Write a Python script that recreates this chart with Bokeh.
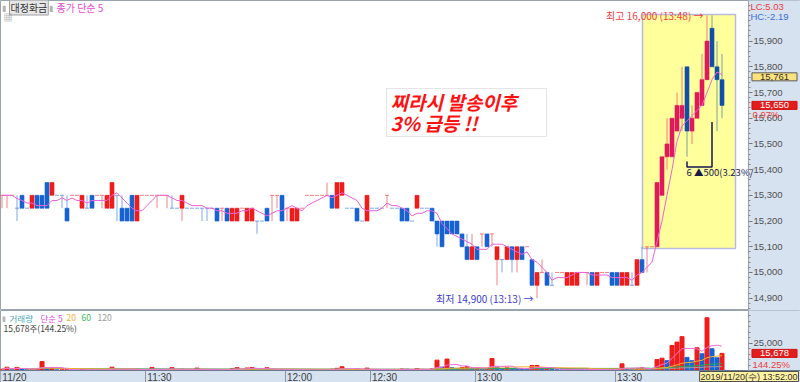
import numpy as np
import pandas as pd
from bokeh.plotting import figure
from bokeh.models import (Range1d, FixedTicker, NumeralTickFormatter, Label,
                          BoxAnnotation)
from bokeh.layouts import column
from bokeh.embed import file_html
from bokeh.resources import INLINE
from bokeh.core.properties import value

# ---------------- data (1-minute candles, 대정화금) ----------------
OPEN = [
    15300, 15300, 15300, 15250, 15300, 15250, 15250, 15300, 15300, 15350,
    15300, 15300, 15300, 15250, 15300, 15300, 15250, 15250, 15300, 15300,
    15300, 15250, 15250, 15300, 15250, 15250, 15300, 15200, 15300, 15300,
    15300, 15300, 15300, 15300, 15250, 15250, 15250, 15250, 15250, 15250,
    15250, 15250, 15250, 15250, 15250, 15250, 15200, 15200, 15250, 15200,
    15200, 15200, 15200, 15250, 15300, 15300, 15300, 15250, 15200, 15200,
    15250, 15300, 15300, 15300, 15300, 15300, 15300, 15250, 15300, 15250,
    15250, 15250, 15200, 15200, 15250, 15250, 15250, 15300, 15250, 15250,
    15250, 15250, 15200, 15250, 15250, 15250, 15250, 15200, 15200, 15200,
    15200, 15200, 15150, 15100, 15050, 15100, 15150, 15150, 15150, 15050,
    15050, 15050, 15100, 15050, 15100, 15100, 15050, 14950, 15000, 15000,
    14950, 15000, 15000, 14950, 14950, 14950, 15000, 15000, 15000, 14950,
    15000, 15000, 15000, 15000, 14950, 14950, 14950, 14950, 15050, 15100,
    15100, 15100, 15300, 15450, 15450, 15550, 15600, 15800, 15550, 15600,
    15650, 15750, 15950, 15800, 15750]
HIGH = [
    15300, 15300, 15300, 15300, 15300, 15250, 15300, 15300, 15300, 15350,
    15350, 15300, 15300, 15300, 15300, 15300, 15300, 15300, 15300, 15300,
    15300, 15300, 15350, 15300, 15300, 15250, 15300, 15300, 15300, 15300,
    15300, 15300, 15300, 15300, 15300, 15250, 15300, 15250, 15250, 15250,
    15250, 15250, 15250, 15250, 15250, 15250, 15250, 15250, 15250, 15250,
    15250, 15200, 15200, 15250, 15300, 15300, 15300, 15250, 15250, 15250,
    15250, 15300, 15300, 15300, 15300, 15350, 15300, 15350, 15350, 15250,
    15250, 15250, 15200, 15300, 15250, 15250, 15250, 15300, 15250, 15250,
    15250, 15250, 15200, 15300, 15250, 15250, 15250, 15200, 15200, 15200,
    15200, 15200, 15150, 15150, 15150, 15100, 15150, 15150, 15150, 15100,
    15050, 15100, 15100, 15100, 15100, 15100, 15050, 15000, 15050, 15000,
    15000, 15000, 15000, 15000, 15000, 15000, 15000, 15000, 15000, 15000,
    15000, 15000, 15000, 15000, 15000, 15000, 15000, 15050, 15100, 15100,
    15100, 15350, 15450, 15600, 15600, 15700, 15800, 15800, 15650, 15700,
    15850, 16000, 16000, 15900, 15850]
LOW = [
    15250, 15250, 15300, 15200, 15250, 15250, 15250, 15250, 15250, 15250,
    15300, 15300, 15250, 15200, 15300, 15300, 15250, 15250, 15250, 15300,
    15250, 15250, 15250, 15200, 15200, 15200, 15200, 15200, 15300, 15300,
    15300, 15250, 15300, 15250, 15250, 15250, 15200, 15250, 15250, 15250,
    15200, 15200, 15250, 15200, 15200, 15200, 15200, 15200, 15250, 15200,
    15200, 15150, 15200, 15200, 15200, 15250, 15200, 15200, 15200, 15200,
    15250, 15300, 15300, 15300, 15300, 15300, 15250, 15250, 15300, 15250,
    15250, 15200, 15200, 15200, 15250, 15250, 15250, 15250, 15250, 15250,
    15200, 15200, 15200, 15250, 15250, 15250, 15200, 15100, 15100, 15150,
    15150, 15150, 15100, 15050, 15050, 15050, 15100, 15100, 15100, 14950,
    15000, 15050, 15000, 15000, 15050, 15100, 14950, 14900, 15000, 14950,
    14950, 15000, 15000, 14950, 14950, 14950, 15000, 14950, 14950, 14950,
    15000, 15000, 14950, 14950, 14950, 14950, 14950, 14950, 15000, 15000,
    15100, 15100, 15300, 15400, 15450, 15550, 15550, 15450, 15500, 15600,
    15650, 15750, 15800, 15550, 15600]
CLOSE = [
    15300, 15300, 15300, 15250, 15250, 15250, 15300, 15250, 15250, 15250,
    15350, 15300, 15300, 15200, 15300, 15300, 15300, 15250, 15250, 15300,
    15300, 15300, 15350, 15300, 15200, 15200, 15200, 15300, 15300, 15300,
    15300, 15300, 15300, 15300, 15250, 15250, 15300, 15250, 15250, 15250,
    15250, 15250, 15250, 15200, 15250, 15200, 15250, 15250, 15250, 15250,
    15250, 15200, 15200, 15200, 15300, 15300, 15200, 15250, 15250, 15250,
    15250, 15300, 15300, 15300, 15300, 15300, 15250, 15350, 15350, 15250,
    15250, 15200, 15200, 15300, 15250, 15250, 15250, 15300, 15250, 15250,
    15200, 15200, 15200, 15300, 15250, 15250, 15200, 15150, 15100, 15150,
    15150, 15150, 15100, 15050, 15100, 15050, 15150, 15100, 15150, 15100,
    15050, 15100, 15050, 15100, 15050, 15100, 14950, 15000, 15000, 14950,
    14950, 15000, 15000, 15000, 15000, 15000, 15000, 15000, 14950, 15000,
    15000, 15000, 14950, 14950, 15000, 15000, 14950, 15050, 15000, 15100,
    15100, 15350, 15450, 15500, 15600, 15650, 15650, 15550, 15600, 15700,
    15750, 15900, 15800, 15750, 15650]
VOLUME = [
    1200, 3000, 700, 2800, 1500, 700, 1000, 1300, 8200, 1800,
    2000, 600, 700, 1000, 500, 400, 900, 500, 700, 400,
    500, 800, 3000, 900, 800, 900, 700, 1300, 500, 400,
    2800, 600, 400, 700, 2600, 700, 1100, 500, 700, 2200,
    800, 600, 500, 900, 700, 800, 1600, 2600, 900, 2300,
    2800, 1000, 800, 2500, 700, 600, 900, 500, 1000, 700,
    500, 600, 400, 500, 700, 600, 1200, 2000, 3500, 900,
    700, 1500, 600, 2200, 500, 400, 600, 900, 500, 600,
    1400, 1200, 700, 1800, 500, 600, 1500, 9500, 3000, 10500,
    2500, 2000, 2800, 3500, 2000, 2500, 1200, 1800, 11000, 3000,
    1500, 2500, 2000, 1800, 1500, 1000, 4600, 4600, 1500, 1800,
    900, 700, 600, 1500, 1300, 1200, 800, 700, 1000, 900,
    600, 500, 1000, 1200, 6100, 1500, 900, 1800, 2500, 2000,
    1500, 10000, 11300, 9000, 22900, 26000, 31000, 12000, 9000, 20800,
    15300, 48300, 19900, 11600, 15678]
TICK_INDEX = [0, 29, 57, 74, 95, 123]
TICK_LABELS = ["11/20", "11:30", "12:00", "12:30", "13:00", "13:30"]
PRICE_TICKS = [14900, 15000, 15100, 15200, 15300, 15400, 15500, 15600,
               15700, 15800, 15900]
MA_BADGE = 15761
HIGHLIGHT_FROM = 129

# ---------------- geometry helpers ----------------
X0 = -0.3
PX = 5.0                      # pixels per candle
W = 800
PANEL_X = 748                 # left edge of the right scale panel
X1 = X0 + W / PX
P_LO, P_HI = 14852, 16058      # price frame 0..310 px
P_H = 310
VPP = 915.75                   # volume per pixel
V_HI = 60 * VPP                # volume frame top (310 px); zero at 370 px
V_LO = -12 * VPP               # bottom of canvas (382 px)


def xpx(px):
    return X0 + px / PX


def ypx(py):
    return P_HI - py * (P_HI - P_LO) / P_H


def vpx(py):
    return (370 - py) * VPP


PANEL = "#d6e2ef"
EDGE = "#9aa3ad"
KFONT = "Noto Sans CJK KR"
NFONT = "Liberation Sans"
UP, DN = "#f01c1c", "#1762d2"
UP_HL, DN_HL = "#e2185c", "#1050a8"

N = len(CLOSE)
idx = np.arange(N)
o, h, l, c = (np.array(a, dtype=float) for a in (OPEN, HIGH, LOW, CLOSE))

dirs = []
for i in range(N):
    if c[i] > o[i]:
        d = 1
    elif c[i] < o[i]:
        d = -1
    else:
        prev = c[i - 1] if i else c[i]
        d = 1 if c[i] > prev else (-1 if c[i] < prev else (dirs[-1] if dirs else 1))
    dirs.append(d)
dirs = np.array(dirs)
col = np.array([(UP_HL if d > 0 else DN_HL) if i >= HIGHLIGHT_FROM else (UP if d > 0 else DN)
                for i, d in enumerate(dirs)])
ma5 = pd.Series(CLOSE).rolling(5, min_periods=1).mean().values

# volume bars coloured against the previous bar's volume
vcol = []
for i, v in enumerate(VOLUME):
    prev = VOLUME[i - 1] if i else v
    vcol.append(UP if v >= prev else DN)


def lab(p, x, y, text, color, size="10px", font=KFONT, align="left", **kw):
    p.add_layout(Label(x=x, y=y, text=text, text_color=color, text_font_size=size,
                       text_font=font, text_align=align, text_baseline="middle", **kw))


def style_scale(ax, ticks, minor):
    ax.ticker = FixedTicker(ticks=ticks, minor_ticks=minor)
    ax.formatter = NumeralTickFormatter(format="0,0")
    ax.fixed_location = xpx(PANEL_X)
    ax.major_label_text_font = NFONT
    ax.major_label_text_font_size = "9.5px"
    ax.major_label_text_color = "#505050"
    ax.major_tick_out = 4
    ax.major_tick_in = 0
    ax.minor_tick_out = 2
    ax.minor_tick_in = 0
    ax.major_tick_line_color = "#707070"
    ax.minor_tick_line_color = "#8a8a8a"
    ax.axis_line_color = EDGE
    ax.major_label_standoff = 1


# ---------------- price panel ----------------
p1 = figure(width=W, height=P_H, x_range=Range1d(X0, X1), y_range=Range1d(P_LO, P_HI),
            x_axis_location=None, y_axis_location="right", toolbar_location=None,
            output_backend="svg", min_border=0, background_fill_color="white",
            border_fill_color=PANEL, outline_line_color=EDGE)
p1.grid.visible = False
style_scale(p1.yaxis[0], PRICE_TICKS, list(range(14860, 16060, 20)))

p1.add_layout(BoxAnnotation(left=xpx(PANEL_X), right=X1 + 5, top=P_HI + 500,
                            bottom=P_LO - 500, fill_color=PANEL, fill_alpha=1.0,
                            line_color=EDGE, level="underlay"))
p1.add_layout(BoxAnnotation(left=xpx(642), right=xpx(735), top=ypx(14), bottom=ypx(248),
                            fill_color="#ffff9c", fill_alpha=1.0, line_color="#1c1cff",
                            line_width=1.5, level="underlay"))

# wicks, bodies, doji marks, MA
p1.segment(x0=idx, y0=l, x1=idx, y1=h, line_color=col, line_alpha=0.55, line_width=1)
nonflat = c != o
p1.vbar(x=idx[nonflat], width=0.8, top=np.maximum(o, c)[nonflat],
        bottom=np.minimum(o, c)[nonflat], fill_color=col[nonflat],
        line_color=col[nonflat], line_alpha=0.6)
flat = ~nonflat
p1.segment(x0=idx[flat] - 0.4, x1=idx[flat] + 0.4, y0=c[flat], y1=c[flat],
           line_color=col[flat], line_alpha=0.55, line_width=1)
p1.line(idx, ma5, line_color="#f060d8", line_width=1)

# measuring bracket
p1.line([142, 142, 137, 137], [15585, 15410, 15410, 15432], line_color="#141456",
        line_width=1.5)
p1.text(x=[136.9], y=[15389], text=["6 ▲500(3.23%/"], text_font=value(KFONT),
        text_font_size="9.5px", text_color="#1a1a4a", text_baseline="middle")

# header
lab(p1, xpx(1), ypx(7), "▮", "#b4b4b4", size="8px")
lab(p1, xpx(9), ypx(7), "대정화금", "#333333", background_fill_color="#e6e6e6",
    border_line_color="#a0a0a0", padding=(1, 0))
lab(p1, xpx(48), ypx(7), "▮", "#b4b4b4", size="8px")
lab(p1, xpx(56), ypx(7), "종가 단순 5", "#e64bd6")
lab(p1, xpx(3), ypx(17), "▦", "#8a8a8a", size="9px")

# high / low marks
ih = int(np.argmax(h))
il = int(np.argmin(l))
lab(p1, ih - 0.7, h[ih], "최고 16,000 (13:48) →", "#f04040", align="right")
lab(p1, il - 0.7, l[il], "최저 14,900 (13:13) →", "#3c3cd0", align="right")

# comment box
p1.add_layout(BoxAnnotation(left=xpx(386), right=xpx(546), top=ypx(88), bottom=ypx(136),
                            fill_color="white", fill_alpha=1.0, line_color="#a8a8a8",
                            line_width=1))
lab(p1, xpx(390), ypx(101), "찌라시 발송이후", "#ff1010", size="19px",
    text_font_style="bold italic")
lab(p1, xpx(390), ypx(122), "3% 급등 !!", "#ff1010", size="19px",
    text_font_style="bold italic")

# right panel texts
lab(p1, xpx(750), ypx(6), "LC:5.03", "#f03c3c", size="9.5px", font=NFONT)
lab(p1, xpx(750), ypx(15.5), "HC:-2.19", "#3c6ed8", size="9.5px", font=NFONT)
lab(p1, xpx(774), MA_BADGE, "15,761", "#333333", size="9.5px", font=NFONT,
    align="center", background_fill_color="#fbe27c", border_line_color="#5a5a5a",
    padding=(8, 1))
lab(p1, xpx(774), c[-1], "15,650", "white", size="9.5px", font=NFONT, align="center",
    background_fill_color="#e51c1c", border_line_color="#d01010", padding=(8, 1))
lab(p1, xpx(752), ypx(113.5), "0.97%", "#f03c3c", size="9.5px", font=NFONT)

# ---------------- volume panel ----------------
p2 = figure(width=W, height=72, x_range=p1.x_range, y_range=Range1d(V_LO, V_HI),
            y_axis_location="right", x_axis_location="below", toolbar_location=None,
            output_backend="svg", min_border=0, background_fill_color="white",
            border_fill_color=PANEL, outline_line_color=EDGE)
p2.grid.visible = False
p2.add_layout(BoxAnnotation(left=xpx(PANEL_X), right=X1 + 5, top=V_HI + 9000,
                            bottom=V_LO - 9000, fill_color=PANEL, fill_alpha=1.0,
                            line_color=EDGE, level="underlay"))
p2.add_layout(BoxAnnotation(left=X0 - 5, right=X1 + 5, top=0, bottom=V_LO - 9000,
                            fill_color=PANEL, fill_alpha=1.0, line_color=None,
                            level="underlay"))

p2.vbar(x=idx, width=0.8, top=VOLUME, bottom=0, fill_color=vcol, line_color=vcol)
vs = pd.Series(VOLUME, dtype=float)
for win, colr in ((120, "#a0a0a0"), (60, "#2fa84f"), (20, "#f0b030"), (5, "#f070d8")):
    p2.line(idx, vs.rolling(win, min_periods=1).mean().values, line_color=colr,
            line_width=1)

style_scale(p2.yaxis[0], [25000], list(range(0, 55000, 5000)))

xa = p2.xaxis[0]
label_pos = [t + X0 + 2.8 for t in TICK_INDEX]
xa.ticker = FixedTicker(ticks=label_pos, minor_ticks=[t + X0 for t in TICK_INDEX])
xa.major_label_overrides = {pos: lbl for pos, lbl in zip(label_pos, TICK_LABELS)}
xa.fixed_location = 0
xa.major_label_text_font = NFONT
xa.major_label_text_font_size = "10px"
xa.major_label_text_color = "#404040"
xa.major_tick_out = 0
xa.major_tick_in = 0
xa.minor_tick_out = 12
xa.minor_tick_in = 0
xa.minor_tick_line_color = "#8a96a6"
xa.axis_line_color = "#6b7b8f"
xa.major_label_standoff = -11

LEG_Y = vpx(317)
lab(p2, xpx(1), LEG_Y, "▮", "#b4b4b4", size="7px")
lab(p2, xpx(9), LEG_Y, "거래량", "#4aa8b8", size="8.5px")
lab(p2, xpx(40), LEG_Y, "단순 5", "#e64bd6", size="8.5px")
lab(p2, xpx(66), LEG_Y, "20", "#f0b43c", size="8.5px")
lab(p2, xpx(81), LEG_Y, "60", "#3cb45a", size="8.5px")
lab(p2, xpx(97), LEG_Y, "120", "#9a9a9a", size="8.5px")
lab(p2, xpx(3), vpx(327), "15,678주(144.25%)", "#404040", size="8.5px")
lab(p2, xpx(774), VOLUME[-1], "15,678", "white", size="9.5px", font=NFONT,
    align="center", background_fill_color="#e51c1c", border_line_color="#d01010",
    padding=(8, 1))
lab(p2, xpx(752), vpx(364), "144.25%", "#f03c3c", size="9.5px", font=NFONT)
lab(p2, xpx(798), vpx(376), "2019/11/20(수) 13:52:00", "#303030", size="9px",
    font=NFONT, align="right", background_fill_color="#fff2a0",
    border_line_color="#505050", padding=(1, 0))

layout = column(p1, p2)
open("out.html", "w").write(file_html(layout, INLINE, title="대정화금"))
